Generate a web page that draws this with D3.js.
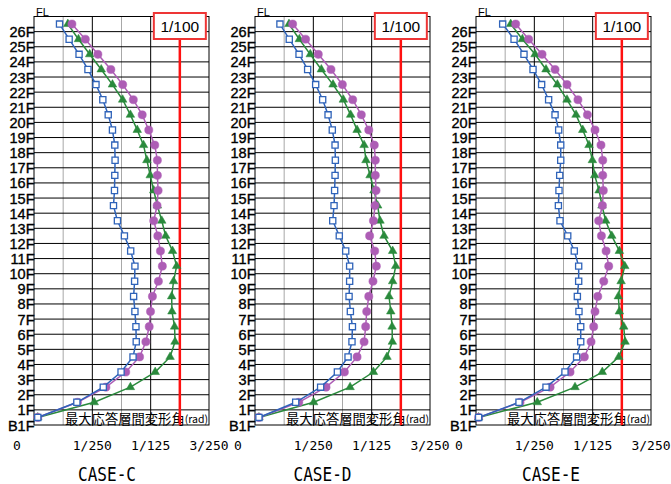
<!DOCTYPE html>
<html><head><meta charset="utf-8">
<script src="https://cdn.jsdelivr.net/npm/d3@7"></script>
<style>body{margin:0;background:#fff}svg{display:block}</style>
</head><body>
<svg id="chart" width="671" height="484"></svg>
<script>
// ---- data (drift in 1/1000 rad), listed from the B1F story (bottom) to the 26F story (top)
const floorLabels = ["B1F","1F","2F","3F","4F","5F","6F","7F","8F","9F","10F","11F","12F","13F","14F","15F","16F","17F","18F","19F","20F","21F","22F","23F","24F","25F","26F"];
const topLabel = "FL";
const caseNames = ["CASE-C","CASE-D","CASE-E"];
const xTickValues = [0, 4, 8, 12];
const xTickLabels = ["0","1/250","1/125","3/250"];
const limitValue = 10;
const limitLabel = "1/100";
const axisTitle = "最大応答層間変形角";
const axisUnit = "(rad)";

const blueC   = [0.26,2.94,4.75,5.97,6.79,7.01,6.99,6.92,6.83,6.90,6.92,6.63,6.20,5.72,5.45,5.52,5.54,5.56,5.54,5.38,5.09,4.72,4.25,3.70,3.09,2.41,1.75];
const purpleC = [0.26,2.98,4.93,6.29,7.24,7.67,7.90,7.99,8.12,8.53,8.80,8.67,8.49,8.21,8.44,8.51,8.46,8.46,8.28,7.87,7.42,6.81,6.08,5.27,4.38,3.52,2.60];
const greenC  = [0.26,4.13,6.61,8.31,9.33,9.67,9.64,9.46,9.44,9.57,9.78,9.50,9.03,8.76,8.46,8.21,7.97,7.74,7.51,7.08,6.61,6.08,5.38,4.61,3.82,3.05,2.32];

const blueD   = [0.27,2.79,4.50,5.65,6.38,6.65,6.68,6.54,6.45,6.49,6.49,6.22,5.78,5.33,5.42,5.46,5.49,5.51,5.49,5.30,5.01,4.64,4.16,3.61,3.02,2.35,1.71];
const purpleD = [0.27,3.00,4.87,6.13,7.00,7.48,7.59,7.66,7.80,8.09,8.32,8.21,7.86,8.12,8.23,8.30,8.25,8.25,8.18,7.80,7.29,6.70,5.99,5.21,4.34,3.47,2.58];
const greenD  = [0.27,4.02,6.52,8.12,9.05,9.42,9.40,9.31,9.19,9.44,9.65,9.44,8.85,8.57,8.41,8.16,7.89,7.61,7.48,7.00,6.56,6.06,5.35,4.55,3.79,3.04,2.33];

const blueE   = [0.18,2.95,4.80,6.10,6.90,7.18,7.18,7.06,6.95,7.04,7.04,6.74,6.29,5.76,5.65,5.69,5.74,5.81,5.81,5.67,5.42,4.98,4.50,3.91,3.29,2.61,1.83];
const purpleE = [0.18,3.02,5.08,6.45,7.43,7.89,8.07,8.16,8.35,8.76,9.10,8.92,8.60,8.41,8.67,8.73,8.69,8.69,8.57,8.16,7.64,6.99,6.24,5.42,4.53,3.61,2.72];
const greenE  = [0.18,4.20,6.79,8.66,9.79,10.22,10.13,9.83,9.76,9.95,10.20,9.83,9.31,8.89,8.64,8.44,8.14,7.98,7.75,7.32,6.86,6.24,5.58,4.80,4.05,3.18,2.38];

const panelData = [
  {green: greenC, purple: purpleC, blue: blueC},
  {green: greenD, purple: purpleD, blue: blueD},
  {green: greenE, purple: purpleE, blue: blueE}
];

// ---- layout
const panelLeft = [34, 255, 476];
const titleX = [107, 322.5, 551];
const panelW = 175, plotTop = 16.5, plotBottom = 425;
const colors = {blue: "#2f63b9", purple: "#ad5db5", green: "#2a8a3c", red: "#ff1010"};

const svg = d3.select("#chart");
const y = d3.scaleLinear().domain([0, floorLabels.length]).range([plotBottom, plotTop]);

panelData.forEach((pd, p) => {
  const L = panelLeft[p];
  const x = d3.scaleLinear().domain([0, 12]).range([L, L + panelW]);
  const g = svg.append("g");

  // vertical grid
  d3.range(2, 12, 2).forEach(v => {
    g.append("line").attr("x1", x(v)).attr("x2", x(v)).attr("y1", plotTop).attr("y2", plotBottom)
      .attr("stroke", v % 4 === 0 ? "#000" : "#a8a8a8").attr("stroke-width", 1);
  });
  // horizontal grid
  d3.range(1, floorLabels.length).forEach(i => {
    g.append("line").attr("x1", L).attr("x2", L + panelW).attr("y1", y(i)).attr("y2", y(i))
      .attr("stroke", "#000").attr("stroke-width", 1);
  });
  g.append("rect").attr("x", L).attr("y", plotTop).attr("width", panelW).attr("height", plotBottom - plotTop)
    .attr("fill", "none").attr("stroke", "#000").attr("stroke-width", 1);

  // floor labels
  g.selectAll("text.fl").data(floorLabels).join("text")
    .attr("x", L + 0.5).attr("y", (d, i) => y(i) + 0.5)
    .attr("text-anchor", "end").attr("dominant-baseline", "central")
    .attr("font-family", "Liberation Sans, Arial, sans-serif").attr("font-size", 14.5)
    .attr("fill", "#000").attr("stroke", "#000").attr("stroke-width", 0.35).text(d => d);
  g.append("text").attr("x", L + 2).attr("y", 15.5)
    .attr("font-family", "Liberation Sans, Arial, sans-serif").attr("font-size", 11)
    .text(topLabel);

  // axis title inside bottom row
  const at = g.append("text").attr("x", L + panelW - 1).attr("y", (y(0) + y(1)) / 2 + 0.5)
    .attr("text-anchor", "end").attr("dominant-baseline", "central")
    .attr("font-family", "Noto Sans CJK JP, sans-serif").attr("fill", "#000");
  at.append("tspan").attr("font-size", 13.3).text(axisTitle);
  at.append("tspan").attr("font-size", 10.5).text(axisUnit);

  // limit line and box
  const bx = x(limitValue);
  g.append("line").attr("x1", bx).attr("x2", bx).attr("y1", 39).attr("y2", plotBottom)
    .attr("stroke", colors.red).attr("stroke-width", 2.5);
  g.append("rect").attr("x", bx - 26).attr("y", 13).attr("width", 52).attr("height", 26)
    .attr("fill", "#fff").attr("stroke", "#ee3535").attr("stroke-width", 2);
  g.append("text").attr("x", bx).attr("y", 26.5).attr("text-anchor", "middle")
    .attr("dominant-baseline", "central").attr("font-family", "Liberation Sans, Arial, sans-serif")
    .attr("font-size", 15.5).text(limitLabel);

  // x tick labels
  xTickValues.forEach((v, i) => {
    g.append("text").attr("x", v === 0 ? x(v) - 17 : x(v)).attr("y", 449.5)
      .attr("text-anchor", "middle").attr("font-family", "DejaVu Sans Mono, monospace")
      .attr("font-size", 13).attr("fill", "#000").text(xTickLabels[i]);
  });

  // case title
  g.append("text").attr("x", titleX[p]).attr("y", 480.5).attr("text-anchor", "middle")
    .attr("font-family", "DejaVu Sans Mono, monospace").attr("font-size", 19.5)
    .attr("textLength", 58).attr("lengthAdjust", "spacingAndGlyphs").text(caseNames[p]);

  // series
  const line = d3.line().x(d => x(d)).y((d, i) => y(i + 0.5));
  const drawSeries = (vals, col, symbolType, size, fill) => {
    g.append("path").datum(vals).attr("d", line).attr("fill", "none")
      .attr("stroke", col).attr("stroke-width", 1.5);
    g.selectAll(null).data(vals).join("path")
      .attr("transform", (d, i) => `translate(${x(d)},${y(i + 0.5)})`)
      .attr("d", d3.symbol().type(symbolType).size(size))
      .attr("fill", fill).attr("stroke", col).attr("stroke-width", fill === "#fff" ? 1.3 : 0.5);
  };
  drawSeries(pd.green, colors.green, d3.symbolTriangle, 32, colors.green);
  drawSeries(pd.purple, colors.purple, d3.symbolCircle, 52, colors.purple);
  drawSeries(pd.blue, colors.blue, d3.symbolSquare, 38, "#fff");
});
</script>
</body></html>
